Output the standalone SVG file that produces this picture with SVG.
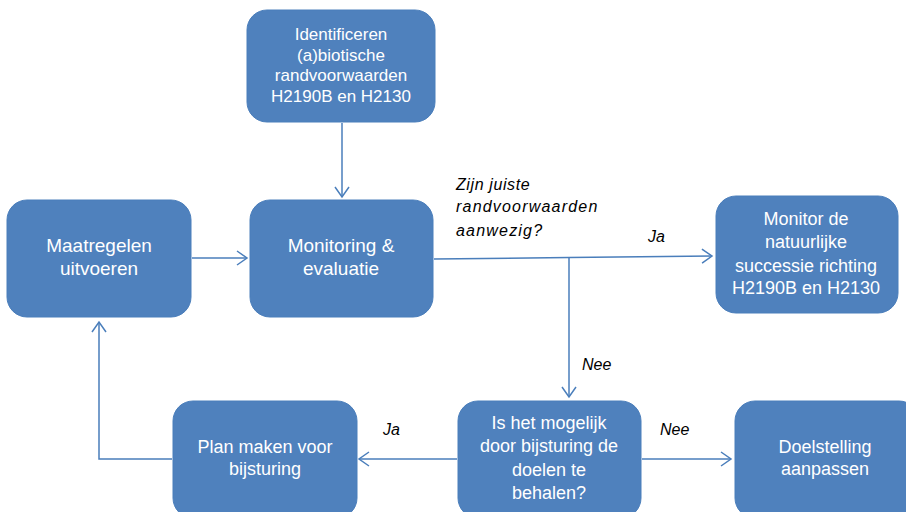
<svg xmlns="http://www.w3.org/2000/svg" width="906" height="512" viewBox="0 0 906 512">
<defs>
<style>
.box{fill:#4F81BD;stroke:#4A7EBB;stroke-width:1}
.t{fill:#FFFFFF;font-family:"Liberation Sans",Arial,sans-serif;font-size:18px;text-anchor:middle}
.t17{font-size:17px}
.t19{font-size:19px}
.lbl{fill:#000000;font-family:"Liberation Sans",Arial,sans-serif;font-size:16px;font-style:italic}
.c{fill:none;stroke:#4A7EBB;stroke-width:1.5}
</style>
<marker id="ah" markerUnits="userSpaceOnUse" markerWidth="14" markerHeight="16" refX="11" refY="8" orient="auto">
<path d="M1,1 L11,8 L1,15" fill="none" stroke="#4A7EBB" stroke-width="1.5"/>
</marker>
</defs>
<rect width="906" height="512" fill="#FFFFFF"/>

<g id="connectors">
<line class="c" x1="342" y1="123" x2="342" y2="197" marker-end="url(#ah)"/>
<line class="c" x1="192" y1="258" x2="247" y2="258" marker-end="url(#ah)"/>
<polyline class="c" points="434,259 569,257.5 712,256" marker-end="url(#ah)"/>
<line class="c" x1="569" y1="257.5" x2="569" y2="397" marker-end="url(#ah)"/>
<line class="c" x1="457" y1="459" x2="359" y2="459" marker-end="url(#ah)"/>
<polyline class="c" points="172,459 99,459 99,322" marker-end="url(#ah)"/>
<line class="c" x1="642" y1="459" x2="731" y2="459" marker-end="url(#ah)"/>
</g>

<g id="node-identificeren">
<rect class="box" x="247" y="10" width="188" height="112" rx="20"/>
<text class="t t17" x="341" y="40">Identificeren</text>
<text class="t t17" x="341" y="61">(a)biotische</text>
<text class="t t17" x="341" y="81">randvoorwaarden</text>
<text class="t t17" x="341" y="102">H2190B en H2130</text>
</g>

<g id="node-maatregelen">
<rect class="box" x="7" y="200" width="184" height="117" rx="20"/>
<text class="t t19" x="99" y="252">Maatregelen</text>
<text class="t t19" x="99" y="275">uitvoeren</text>
</g>

<g id="node-monitoring">
<rect class="box" x="250" y="200" width="183" height="117" rx="20"/>
<text class="t t19" x="341" y="252">Monitoring &amp;</text>
<text class="t t19" x="341" y="275">evaluatie</text>
</g>

<g id="node-monitor-de">
<rect class="box" x="716" y="196" width="182" height="117" rx="20"/>
<text class="t" x="806" y="225">Monitor de</text>
<text class="t" x="806" y="248">natuurlijke</text>
<text class="t" x="806" y="272">successie richting</text>
<text class="t" x="806" y="294">H2190B en H2130</text>
</g>

<g id="node-plan">
<rect class="box" x="173" y="401" width="184" height="117" rx="20"/>
<text class="t" x="265" y="453">Plan maken voor</text>
<text class="t" x="265" y="475">bijsturing</text>
</g>

<g id="node-is-het">
<rect class="box" x="458" y="401" width="183" height="117" rx="20"/>
<text class="t" x="549" y="429">Is het mogelijk</text>
<text class="t" x="549" y="452">door bijsturing de</text>
<text class="t" x="549" y="476">doelen te</text>
<text class="t" x="549" y="499">behalen?</text>
</g>

<g id="node-doelstelling">
<rect class="box" x="735" y="401" width="184" height="117" rx="20"/>
<text class="t" x="825" y="453">Doelstelling</text>
<text class="t" x="825" y="475">aanpassen</text>
</g>

<g id="labels">
<text class="lbl" x="456" y="190" letter-spacing="0.6">Zijn juiste</text>
<text class="lbl" x="456" y="212" letter-spacing="1.2">randvoorwaarden</text>
<text class="lbl" x="456" y="236" letter-spacing="1.2">aanwezig?</text>
<text class="lbl" x="648" y="242">Ja</text>
<text class="lbl" x="582" y="370">Nee</text>
<text class="lbl" x="383" y="435">Ja</text>
<text class="lbl" x="660" y="435">Nee</text>
</g>
</svg>
